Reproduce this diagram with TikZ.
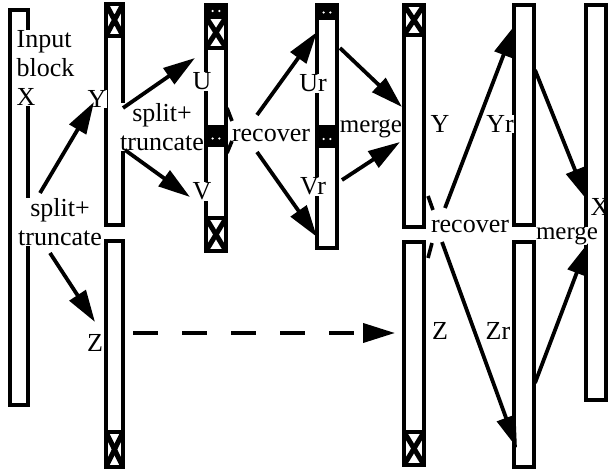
\documentclass[tikz,border=0pt]{standalone}
\usepackage{fontspec}
\setmainfont{Liberation Serif}
\usetikzlibrary{arrows.meta}
\newcommand\mycapx[4]{%
  \begin{scope}
    \clip (#1,#2) rectangle (#3,#4);
    \fill[white] (#1,#2) rectangle (#3,#4);
    \draw[line width=5pt] (#1,#2) -- (#3,#4) (#1,#4) -- (#3,#2);
  \end{scope}
  \draw[line width=4.2pt] (#1,#2) rectangle (#3,#4);}
\newcommand\mycapd[4]{%
  \fill (#1-1.7,#2-1.7) rectangle (#3+1.7,#4);
  \fill[white] ({#1+(#3-#1)/3},{(#2+#4)/2}) circle (1.2pt)
               ({#1+2*(#3-#1)/3},{(#2+#4)/2}) circle (1.2pt);}
\begin{document}
\begin{tikzpicture}[x=1pt,y=-1pt,
  bar/.style={draw, line width=3.4pt, fill=white, inner sep=0pt, outer sep=0pt},
  lbl/.style={font=\fontsize{26}{29}\selectfont, fill=white, inner sep=0.5pt},
  mlbl/.style={lbl, font=\fontsize{25}{28}\selectfont, inner sep=0pt},
  arr/.style={line width=3.8pt, -{Triangle[length=32pt,width=19pt]}},
  stub/.style={line width=3.6pt},
  dsh/.style={arr, dash pattern=on 25pt off 24pt}]
\useasboundingbox (0,0) rectangle (608,470);
% bars
\node[bar, minimum width=18pt, minimum height=395pt] (inp) at (19,207.5) {};
\node[bar, minimum width=17pt, minimum height=221pt] (y2) at (114.5,114.5) {};
\node[bar, minimum width=17pt, minimum height=226pt] (z2) at (114.5,354) {};
\node[bar, minimum width=20pt, minimum height=122pt] (u) at (216,66) {};
\node[bar, minimum width=20pt, minimum height=121pt] (v) at (216,190.5) {};
\node[bar, minimum width=20pt, minimum height=122pt] (ur) at (327,66) {};
\node[bar, minimum width=20pt, minimum height=118pt] (vr) at (327,189) {};
\node[bar, minimum width=20pt, minimum height=222pt] (y5) at (414,116) {};
\node[bar, minimum width=20pt, minimum height=223pt] (z5) at (414,353.5) {};
\node[bar, minimum width=20pt, minimum height=220pt] (yr) at (524,115) {};
\node[bar, minimum width=20pt, minimum height=225pt] (zr) at (524,354.5) {};
\node[bar, minimum width=20pt, minimum height=395pt] (xo) at (596,202.5) {};
% caps
\mycapx{106}{4}{123}{36}
\mycapx{106}{432}{123}{467}
\mycapd{206}{5}{226}{17}
\mycapx{206}{17}{226}{48}
\mycapd{206}{130}{226}{147}
\mycapx{206}{218}{226}{251}
\mycapd{317}{5}{337}{20}
\mycapd{317}{130}{337}{148}
\mycapx{404}{5}{424}{35}
\mycapx{404}{432}{424}{465}
% labels
\node[lbl, anchor=north west, align=left] (tin) at (16,30) {Input\\block\\X};
\node[lbl, anchor=base] (ly2) at (97,108) {Y};
\node[lbl, anchor=north, align=center] (st1) at (162,102.5) {split+\\truncate};
\node[lbl, anchor=north, align=center] (st2) at (60,197.5) {split+\\truncate};
\node[lbl, anchor=base] (lz2) at (95,352) {Z};
\node[lbl, anchor=base] (lu) at (202,90) {U};
\node[lbl, anchor=base] (lv) at (202,200) {V};
\node[lbl, anchor=base] (rec1) at (271,142) {recover};
\node[lbl, anchor=base] (lur) at (313,92) {Ur};
\node[lbl, anchor=base] (lvr) at (313,195) {Vr};
\node[mlbl, anchor=base] (mer1) at (371,133) {merge};
\node[lbl, anchor=base] (ly5) at (440,133) {Y};
\node[lbl, anchor=base] (lyr) at (500,133) {Yr};
\node[lbl, anchor=base] (rec2) at (470,233) {recover};
\node[mlbl, anchor=base] (mer2) at (567,240) {merge};
\node[lbl, anchor=base, fill=none] (lx) at (600,216) {X};
\node[lbl, anchor=base] (lz5) at (440,340) {Z};
\node[lbl, anchor=base] (lzr) at (498,340) {Zr};
% coordinates for arrows
\coordinate (a1s) at (40,193);  \coordinate (a1e) at (94,102);
\coordinate (a2s) at (50,253);  \coordinate (a2e) at (95,322);
\coordinate (a3s) at (123,108); \coordinate (a3e) at (195,58);
\coordinate (a4s) at (125,150); \coordinate (a4e) at (190,197);
\coordinate (a5s) at (257,115); \coordinate (a5e) at (317,32);
\coordinate (a6s) at (257,152); \coordinate (a6e) at (317,237);
\coordinate (a7s) at (340,48);  \coordinate (a7e) at (402,107);
\coordinate (a8s) at (342,180); \coordinate (a8e) at (400,142);
\coordinate (a9s) at (445,208); \coordinate (a9e) at (515,25);
\coordinate (a10s) at (535,70); \coordinate (a10e) at (587,200);
\coordinate (a11s) at (442,242);\coordinate (a11e) at (517,448);
\coordinate (a12s) at (535,383);\coordinate (a12e) at (588,243);
\coordinate (ds) at (133,333);  \coordinate (de) at (395,333);
% arrows
\draw[arr] (a1s) -- (a1e);
\draw[arr] (a2s) -- (a2e);
\draw[arr] (a3s) -- (a3e);
\draw[arr] (a4s) -- (a4e);
\draw[arr] (a5s) -- (a5e);
\draw[arr] (a6s) -- (a6e);
\draw[arr] (a7s) -- (a7e);
\draw[arr] (a8s) -- (a8e);
\draw[arr] (a9s) -- (a9e);
\draw[arr] (a10s) -- (a10e);
\draw[arr] (a11s) -- (a11e);
\draw[arr] (a12s) -- (a12e);
\draw[dsh] (ds) -- (de);
% short stubs
\coordinate (s1a) at (227,108); \coordinate (s1b) at (232,121);
\coordinate (s2a) at (227,153); \coordinate (s2b) at (232,141);
\coordinate (s3a) at (428,196); \coordinate (s3b) at (433,210);
\coordinate (s4a) at (432,243); \coordinate (s4b) at (428,258);
\draw[stub] (s1a) -- (s1b);
\draw[stub] (s2a) -- (s2b);
\draw[stub] (s3a) -- (s3b);
\draw[stub] (s4a) -- (s4b);
\end{tikzpicture}
\end{document}
